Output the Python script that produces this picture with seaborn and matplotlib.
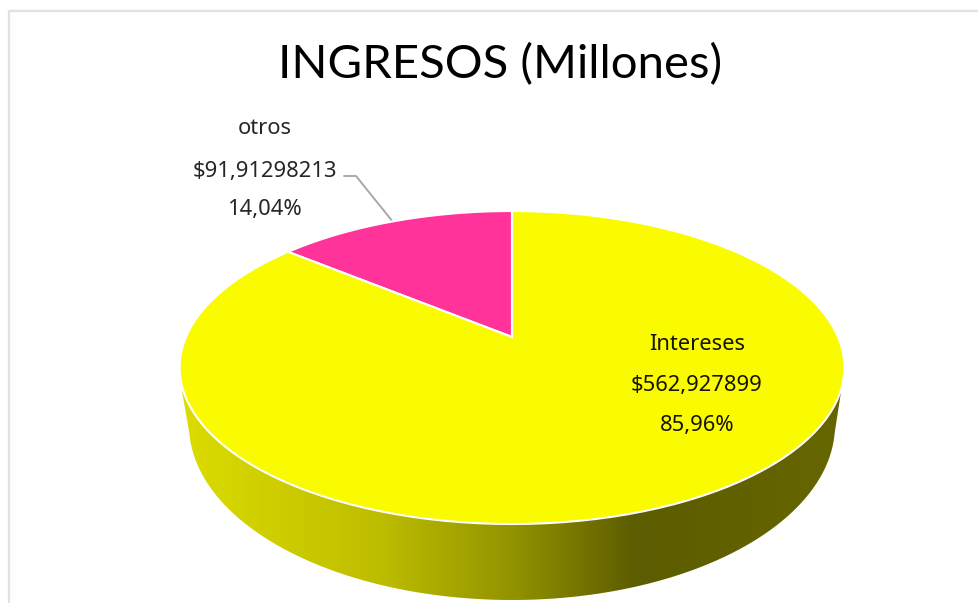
#!/usr/bin/env python3
# -*- coding: utf-8 -*-
"""Pie chart of income, tilted with a perspective map to look like a 3D disc."""

import matplotlib
matplotlib.use("Agg")
import matplotlib.pyplot as plt
import numpy as np
import seaborn as sns
from matplotlib.colors import LinearSegmentedColormap
from matplotlib.patches import PathPatch
from matplotlib.path import Path
from matplotlib.transforms import Affine2D, Transform

categories = ["otros", "Intereses"]
amounts = [91.91298213, 562.927899]
amount_labels = ["$91,91298213", "$562,927899"]
percent_labels = ["14,04%", "85,96%"]
title = "INGRESOS (Millones)"

slice_colors = ["#ff3399", "#fbfb00"]

sns.set_theme(style="white")
plt.rcParams["font.family"] = ["Noto Sans", "DejaVu Sans"]


class DiscTilt(Transform):
    """Maps the unit circle of the pie to the tilted disc, in pixels."""
    input_dims = 2
    output_dims = 2

    def transform_non_affine(self, values):
        values = np.asarray(values, dtype=float)
        w = 1 + 0.195 * values[:, 1]
        x = 512 + 326 * values[:, 0] / w
        y = 367.5 - (156.5 * values[:, 1] + 30.5) / w
        return np.column_stack([x, y])

    def transform_path_non_affine(self, path):
        # flatten the curves first, the map is not affine
        polys = path.transformed(Affine2D().scale(500)).to_polygons()
        verts = np.vstack(polys) / 500
        return Path(self.transform_non_affine(verts))


fig = plt.figure(figsize=(9.79, 6.03), dpi=100)
ax = fig.add_axes([0, 0, 1, 1])

wedges, _ = ax.pie(amounts, colors=sns.color_palette(slice_colors), startangle=90,
                   counterclock=True, wedgeprops={"edgecolor": "white", "linewidth": 1.5})
tilt = DiscTilt()
for wedge in wedges:
    wedge.set_transform(tilt + ax.transData)
    wedge.set_zorder(3)

# side wall of the disc
t = np.linspace(np.pi * 0.985, 0.015 * np.pi, 200)
wall_x = np.r_[182, 512 + 323 * np.cos(t), 841, 512]
wall_y = np.r_[391, 425 + 175 * np.sin(t), 392, 370]
wall = PathPatch(Path(np.column_stack([wall_x, wall_y]), closed=False), transform=ax.transData,
                 facecolor="none", edgecolor="none")
ax.add_patch(wall)
shade = LinearSegmentedColormap.from_list(
    "wall", [(0, "#dcdc00"), (0.3, "#bdbd00"), (0.5, "#939300"), (0.69, "#5c5c00"), (1, "#666600")])
img = ax.imshow(np.linspace(0, 1, 400)[None, :], extent=(182, 841, 603, 370), cmap=shade,
                aspect="auto", zorder=1)
img.set_clip_path(wall)

ax.set_xlim(0, 979)
ax.set_ylim(603, 0)
ax.set_aspect("auto")
ax.axis("off")

# chart border, cut by the screenshot on the right and at the bottom
ax.plot([9.5, 9.5, 979], [603, 10.5, 10.5], color="#e2e2e2", lw=1.7, zorder=0)

ax.text(500, 65, title, ha="center", va="center", fontsize=34, color="black",
        family=["Lato", "DejaVu Sans"])

# leader line of the small slice
ax.plot([344, 356, 393], [176, 176, 222], color="#a9a9a9", lw=1.4, zorder=2)

label_x = [265, 697]
label_y = [[129, 171, 209], [344, 386, 425]]
label_colors = ["#262626", "#141400"]
for i, name in enumerate(categories):
    lines = [name, amount_labels[i], percent_labels[i]]
    for line, y in zip(lines, label_y[i]):
        ax.text(label_x[i], y, line, ha="center", va="center", fontsize=15.8,
                color=label_colors[i], zorder=5)

fig.savefig("out.png", dpi=100, facecolor="white")
